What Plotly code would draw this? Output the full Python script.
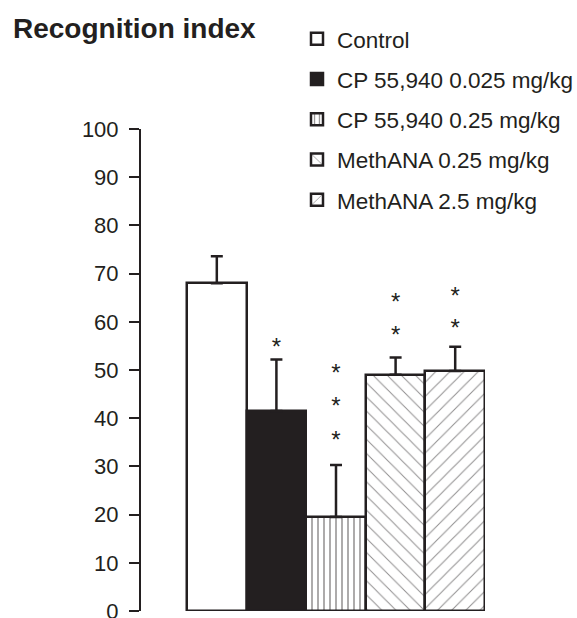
import plotly.graph_objects as go

groups = ["Control", "CP 55,940 0.025 mg/kg", "CP 55,940 0.25 mg/kg",
          "MethANA 0.25 mg/kg", "MethANA 2.5 mg/kg"]
means = [68.0, 41.5, 19.5, 49.0, 49.8]
sem = [5.6, 10.7, 10.8, 3.6, 5.0]
# asterisk positions (data units) above each bar
stars_y = [[], [54.3], [35.0, 42.1, 49.0], [56.9, 63.6], [58.2, 64.9]]

y_ticks = [0, 10, 20, 30, 40, 50, 60, 70, 80, 90, 100]

fills = [
    dict(color="white", pattern=None),
    dict(color="#231f20", pattern=None),
    dict(color="white", pattern=dict(shape="|", size=6, solidity=0.25, fgcolor="#231f20", bgcolor="white")),
    dict(color="white", pattern=dict(shape="\\", size=10, solidity=0.1, fgcolor="#231f20", bgcolor="white")),
    dict(color="white", pattern=dict(shape="/", size=10, solidity=0.1, fgcolor="#231f20", bgcolor="white")),
]

FONT = "Liberation Sans, Arial, sans-serif"
fig = go.Figure()
for i, g in enumerate(groups):
    marker = dict(color=fills[i]["color"], line=dict(color="#231f20", width=2.5))
    if fills[i]["pattern"] is not None:
        marker["pattern"] = fills[i]["pattern"]
    fig.add_trace(go.Bar(
        x=[g], y=[means[i]], name=g, marker=marker, width=1,
        legendgroup=g,
        error_y=dict(type="data", symmetric=False, array=[sem[i]], arrayminus=[0],
                     color="#231f20", thickness=2.5, width=6),
    ))

for i, g in enumerate(groups):
    if stars_y[i]:
        fig.add_trace(go.Scatter(
            x=[g] * len(stars_y[i]), y=stars_y[i], mode="text", text=["*"] * len(stars_y[i]),
            textposition="middle center", textfont=dict(size=24, color="#231f20", family=FONT),
            showlegend=False, hoverinfo="skip", cliponaxis=False,
        ))

fig.update_layout(
    width=577, height=618,
    margin=dict(l=141, r=92, t=129, b=7, autoexpand=False),
    paper_bgcolor="white", plot_bgcolor="white",
    barmode="relative", bargap=0,
    font=dict(family=FONT, color="#231f20"),
    showlegend=True,
    legend=dict(x=297 / 577, y=1 - 17.6 / 618, xref="container", yref="container",
                xanchor="left", yanchor="top",
                font=dict(size=22.5, family=FONT, color="#231f20"),
                traceorder="grouped", tracegroupgap=8, bgcolor="rgba(0,0,0,0)"),
    title=dict(text="<b>Recognition index</b>", x=13 / 577, xanchor="left",
               y=1 - 28 / 618, yanchor="middle", yref="container", xref="container",
               font=dict(size=28, family=FONT, color="#231f20")),
)
fig.update_xaxes(type="category", categoryorder="array", categoryarray=groups,
                 range=[-1.272, 4.5], showticklabels=False, showline=False,
                 showgrid=False, zeroline=False, ticks="")
fig.update_yaxes(range=[0, 100], tickvals=y_ticks, ticktext=[str(v) for v in y_ticks],
                 showline=True, linecolor="#231f20", linewidth=2,
                 ticks="outside", ticklen=10, tickwidth=2, tickcolor="#231f20",
                 ticklabelstandoff=6, ticklabeloverflow="allow",
                 tickfont=dict(size=22, family=FONT, color="#231f20"),
                 showgrid=False, zeroline=False, automargin=False)

fig.write_html("out.html", config={"displayModeBar": False},
               post_script="document.body.style.margin='0';document.body.style.overflow='hidden';")
